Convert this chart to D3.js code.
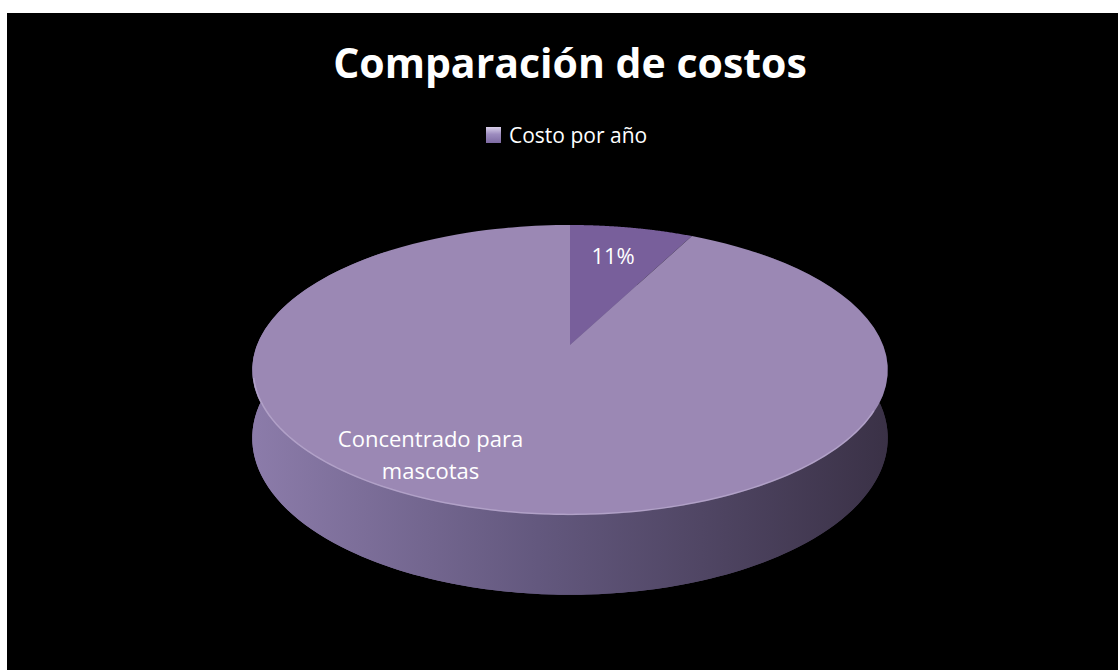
<!DOCTYPE html>
<html lang="es">
<head>
  <meta charset="UTF-8" />
  <title>Comparación de costos</title>
  <style>
    body {
      margin: 0;
      background: #fff;
      font-family: 'Open Sans', 'DejaVu Sans', sans-serif;
    }
    svg { display: block; }
  </style>
</head>
<body>
  <svg id="chart" width="1118" height="670"></svg>

  <script src="https://d3js.org/d3.v7.min.js"></script>
  <script>
    // data
    const title = "Comparación de costos";
    const seriesName = "Costo por año";
    const categories = ["Otros", "Concentrado para mascotas"];
    const values = [11, 89];
    const labelModes = ["percent", "category"];   // what each data label shows

    const svg = d3.select("#chart");
    const width = +svg.attr("width");
    const height = +svg.attr("height");

    // black chart area inside the white page edge
    svg.append("rect")
       .attr("x", 7).attr("y", 13)
       .attr("width", width - 7).attr("height", height - 13)
       .attr("fill", "#000");

    // title
    svg.append("text")
       .attr("x", 570).attr("y", 78)
       .attr("text-anchor", "middle")
       .attr("fill", "#fff")
       .attr("font-weight", "bold")
       .attr("font-size", "41px")
       .text(title);

    const defs = svg.append("defs");

    // legend marker gradient
    const lg = defs.append("linearGradient")
                   .attr("id", "legendGrad")
                   .attr("x1", "0%").attr("y1", "0%")
                   .attr("x2", "0%").attr("y2", "100%");
    lg.append("stop").attr("offset", "0%").attr("stop-color", "#d9d0ea");
    lg.append("stop").attr("offset", "45%").attr("stop-color", "#9d8cbf");
    lg.append("stop").attr("offset", "100%").attr("stop-color", "#7e6ba3");

    // legend
    const legend = svg.append("g").attr("transform", "translate(486,127)");
    legend.append("rect")
          .attr("width", 15).attr("height", 16)
          .attr("fill", "url(#legendGrad)");
    legend.append("text")
          .attr("x", 23).attr("y", 15.5)
          .attr("fill", "#fff")
          .attr("font-size", "21px")
          .text(seriesName);

    // --- 3D pie in perspective ---
    const cx = 570, cy = 345;     // projected pie centre
    const A = 313, B = 140.7;     // radii before perspective
    const k = 0.1724;             // perspective strength
    const depth = 66;             // thickness
    const warpAmt = 0.229;        // angle foreshortening of the 3D view

    const warp = a => a - warpAmt * Math.sin(2 * a);

    // angle a: clockwise from 12 o'clock, r: 0..1, dz: drop below top face
    function proj(a, r, dz) {
      const u = r * Math.sin(a);
      const v = -r * Math.cos(a);
      const w = 1 - k * v;
      return [cx + A * u / w, cy + (B * v + dz) / w];
    }

    const pie = d3.pie().sort(null).value(d => d)
                  .startAngle(0).endAngle(2 * Math.PI);
    const arcs = pie(values);
    const total = d3.sum(values);

    const topColors = ["#785f9b", "#9b88b4"];

    const line = d3.line();

    function rimPoints(a0, a1, r, dz, n) {
      const pts = [];
      for (let i = 0; i <= n; i++) {
        const a = a0 + (a1 - a0) * i / n;
        pts.push(proj(warp(a), r, dz));
      }
      return pts;
    }

    // side gradient: light on the left, dark on the right
    const sg = defs.append("linearGradient")
                   .attr("id", "sideGrad")
                   .attr("gradientUnits", "userSpaceOnUse")
                   .attr("x1", cx - 320).attr("y1", 0)
                   .attr("x2", cx + 320).attr("y2", 0);
    sg.append("stop").attr("offset", "0%").attr("stop-color", "#8c7caa");
    sg.append("stop").attr("offset", "45%").attr("stop-color", "#63587e");
    sg.append("stop").attr("offset", "100%").attr("stop-color", "#3a3146");

    const pieG = svg.append("g");

    // bottom face, then the front wall
    pieG.append("path")
        .attr("d", line(rimPoints(0, 2 * Math.PI, 1, depth, 240)) + "Z")
        .attr("fill", "url(#sideGrad)");

    const front0 = Math.PI * 0.3, front1 = Math.PI * 1.7;
    const wall = rimPoints(front0, front1, 1, 0, 160)
                   .concat(rimPoints(front1, front0, 1, depth, 160));
    pieG.append("path")
        .attr("d", line(wall) + "Z")
        .attr("fill", "url(#sideGrad)");

    // top faces
    pieG.selectAll(".slice")
        .data(arcs)
        .join("path")
        .attr("class", "slice")
        .attr("fill", (d, i) => topColors[i])
        .attr("d", d => {
          const pts = [proj(0, 0, 0)].concat(rimPoints(d.startAngle, d.endAngle, 1, 0, 120));
          return line(pts) + "Z";
        });

    // soft highlight along the front rim
    pieG.append("path")
        .attr("d", line(rimPoints(Math.PI * 0.6, Math.PI * 1.45, 0.997, 0, 120)))
        .attr("fill", "none")
        .attr("stroke", "rgba(230,220,245,0.3)")
        .attr("stroke-width", 1.5);

    // data labels (Excel nudges them off the slice centre)
    const labelR = 0.8;
    const labelNudge = [[-32, 5], [-42, -12]];
    const labels = pieG.selectAll(".label")
        .data(arcs)
        .join("text")
        .attr("class", "label")
        .attr("fill", "#fff")
        .attr("font-size", "22px")
        .attr("text-anchor", "middle")
        .attr("transform", (d, i) => {
          const p = proj((d.startAngle + d.endAngle) / 2, labelR, 0);
          return `translate(${p[0] + labelNudge[i][0]},${p[1] + labelNudge[i][1]})`;
        });

    labels.each(function(d, i) {
      const t = d3.select(this);
      if (labelModes[i] === "percent") {
        t.append("tspan").attr("x", 0).attr("dy", "0.35em")
         .text(Math.round(d.value / total * 100) + "%");
      } else {
        const words = categories[i].split(" ");
        const lines = [words.slice(0, 2).join(" "), words.slice(2).join(" ")];
        lines.forEach((s, j) => {
          t.append("tspan").attr("x", 0)
           .attr("dy", j === 0 ? "-0.35em" : "1.45em")
           .text(s);
        });
      }
    });
  </script>
</body>
</html>
